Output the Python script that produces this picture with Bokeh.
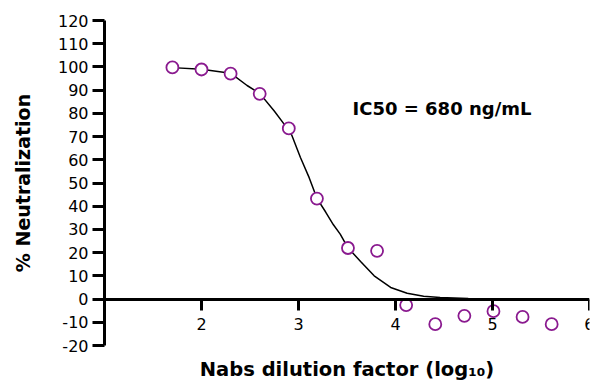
from bokeh.plotting import figure
from bokeh.models import Range1d, LinearAxis, FixedTicker, Label
from bokeh.embed import file_html
from bokeh.resources import INLINE

# measured points: log10 dilution factor vs % neutralization
dilution_log = [1.70, 2.00, 2.30, 2.60, 2.90, 3.19, 3.51, 3.81, 4.11, 4.41, 4.71, 5.01, 5.31, 5.61]
neutralization = [99.8, 98.9, 97.1, 88.4, 73.5, 43.3, 22.0, 20.8, -2.6, -10.8, -7.2, -5.2, -7.7, -10.8]

# fitted curve
curve_x = [1.70, 2.00, 2.30, 2.47, 2.60, 2.75, 2.84, 2.93, 3.02, 3.11, 3.19, 3.28, 3.36, 3.43,
           3.51, 3.64, 3.78, 3.95, 4.12, 4.29, 4.46, 4.75, 5.00, 5.30, 5.61]
curve_y = [99.7, 99.0, 97.3, 92.0, 88.6, 81.0, 76.0, 70.7, 61.0, 52.3, 43.4, 37.5, 32.0, 28.0,
           22.1, 16.2, 10.0, 5.0, 2.5, 1.2, 0.7, 0.3, 0.1, 0.0, 0.0]

x_ticks = [2, 3, 4, 5, 6]
x_tick_labels = ["2", "3", "4", "5", "6"]
y_ticks = [-20, -10, 0, 10, 20, 30, 40, 50, 60, 70, 80, 90, 100, 110, 120]
y_tick_labels = ["-20", "-10", "0", "10", "20", "30", "40", "50", "60", "70", "80", "90", "100", "110", "120"]

y_title = "% Neutralization"
x_title = "Nabs dilution factor (log\u2081\u2080)"
annotation = "IC50 = 680 ng/mL"

FONT = "DejaVu Sans"
PURPLE = "#8a1a8f"

p = figure(width=594, height=383, x_range=Range1d(1, 6), y_range=Range1d(-20, 120),
           output_backend="svg", toolbar_location=None,
           x_axis_type=None, y_axis_type=None,
           min_border_left=104, min_border_right=5, min_border_top=20, min_border_bottom=38)
p.outline_line_color = None
p.xgrid.visible = False
p.ygrid.visible = False
p.background_fill_color = "white"
p.border_fill_color = "white"

yaxis = LinearAxis(ticker=FixedTicker(ticks=y_ticks),
                   major_label_overrides={t: l for t, l in zip(y_ticks, y_tick_labels)})
yaxis.axis_line_width = 3
yaxis.major_tick_line_width = 3
yaxis.major_tick_out = 12
yaxis.major_tick_in = 0
yaxis.minor_tick_line_color = None
yaxis.major_label_standoff = 4
yaxis.major_label_text_font = FONT
yaxis.major_label_text_font_size = "16px"
yaxis.major_label_text_color = "black"
yaxis.axis_label = y_title
yaxis.axis_label_text_font = FONT
yaxis.axis_label_text_font_size = "19px"
yaxis.axis_label_text_font_style = "bold"
yaxis.axis_label_text_color = "black"
yaxis.axis_label_standoff = 21
p.add_layout(yaxis, "left")

# x axis drawn at y = 0
xaxis = LinearAxis(ticker=FixedTicker(ticks=x_ticks), fixed_location=0,
                   major_label_overrides={t: l for t, l in zip(x_ticks, x_tick_labels)})
xaxis.axis_line_width = 3
xaxis.major_tick_line_width = 3
xaxis.major_tick_out = 11
xaxis.major_tick_in = 0
xaxis.minor_tick_line_color = None
xaxis.major_label_standoff = 8
xaxis.major_label_text_font = FONT
xaxis.major_label_text_font_size = "16px"
xaxis.major_label_text_color = "black"
p.add_layout(xaxis, "below")

# title-only axis at the bottom edge carrying the x axis title
xtitle_axis = LinearAxis(ticker=FixedTicker(ticks=[]))
xtitle_axis.axis_line_color = None
xtitle_axis.major_tick_line_color = None
xtitle_axis.minor_tick_line_color = None
xtitle_axis.major_tick_out = 0
xtitle_axis.major_tick_in = 0
xtitle_axis.major_label_standoff = 0
xtitle_axis.major_label_text_font_size = "0px"
xtitle_axis.axis_label = x_title
xtitle_axis.axis_label_text_font = FONT
xtitle_axis.axis_label_text_font_size = "19.5px"
xtitle_axis.axis_label_text_font_style = "bold"
xtitle_axis.axis_label_text_color = "black"
xtitle_axis.axis_label_standoff = 12
p.add_layout(xtitle_axis, "below")

p.line(curve_x, curve_y, line_color="black", line_width=1.5)
p.scatter(dilution_log, neutralization, marker="circle", size=12,
          fill_color="white", line_color=PURPLE, line_width=1.8)

p.add_layout(Label(x=3.557, y=82.3, text=annotation, text_font=FONT, text_font_size="18px",
                   text_font_style="bold", text_color="black", text_baseline="middle",
                   text_align="left"))

open("out.html", "w").write(file_html(p, INLINE))
